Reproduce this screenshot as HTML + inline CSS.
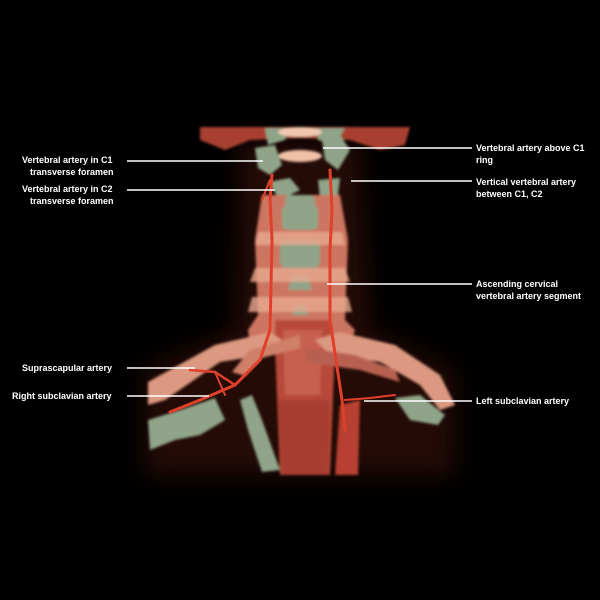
<!DOCTYPE html>
<html><head><meta charset="utf-8"><style>
html,body{margin:0;padding:0;background:#000;}
svg{display:block}
text{font-family:"Liberation Sans",sans-serif;font-weight:bold;font-size:9px;fill:#fff}
</style></head><body>
<svg width="600" height="600" viewBox="0 0 600 600" xmlns="http://www.w3.org/2000/svg">
<rect width="600" height="600" fill="#000"/>
<defs>
<filter id="bl"><feGaussianBlur stdDeviation="1.2"/></filter>
<filter id="bl2"><feGaussianBlur stdDeviation="12"/></filter>
</defs>
<!-- haze -->
<g filter="url(#bl2)" opacity="0.5">
<path d="M240 140 L360 140 L370 330 L455 370 L455 475 L145 475 L145 370 L235 330 Z" fill="#4a1410"/>
</g>
<g filter="url(#bl)">
<path d="M200 127 L410 127 L405 145 L380 150 L350 140 L300 138 L250 140 L225 150 L200 140 Z" fill="#a84030"/>
<path d="M265 128 L290 128 L285 140 L268 145 Z M315 128 L345 128 L335 145 L318 140 Z" fill="#8fa488"/>
<ellipse cx="300" cy="132" rx="22" ry="5" fill="#f0c8b0"/>
<ellipse cx="300" cy="156" rx="22" ry="6" fill="#f0c0a8"/>
<path d="M255 148 L275 145 L282 165 L270 175 L258 168 Z" fill="#8fa488"/>
<path d="M322 140 L340 135 L350 150 L338 170 L325 160 Z" fill="#8fa488"/>
<path d="M268 182 L290 178 L300 190 L280 200 Z M318 180 L340 178 L338 195 L320 198 Z" fill="#8fa488"/>
<path d="M262 195 L340 195 L348 240 L345 320 L355 330 L350 345 L250 345 L248 330 L258 315 L255 240 Z" fill="#cc7460"/>
<rect x="285" y="195" width="30" height="18" rx="5" fill="#8fa488"/>
<rect x="282" y="205" width="36" height="25" rx="6" fill="#8fa488"/>
<rect x="280" y="240" width="40" height="28" rx="6" fill="#8fa488"/>
<path d="M292 275 L308 275 L312 290 L288 290 Z" fill="#8fa488"/>
<path d="M295 305 L305 305 L308 315 L292 315 Z" fill="#8fa488"/>
<path d="M258 232 L342 232 L345 245 L255 245 Z M255 268 L345 268 L350 282 L250 282 Z M252 297 L348 297 L352 312 L248 312 Z" fill="#e8aa90" opacity="0.8"/>
<path d="M275 320 L330 320 L335 345 L330 475 L280 475 L275 345 Z" fill="#b84838"/>
<path d="M283 330 L322 330 L320 395 L285 395 Z" fill="#c86050"/>
<path d="M278 400 L330 400 L328 475 L282 475 Z" fill="#a83e30"/>
<path d="M148 382 L215 345 L270 332 L285 342 L265 355 L220 362 L165 400 L148 405 Z" fill="#dc9880"/>
<path d="M315 340 L340 332 L395 345 L440 375 L455 405 L440 410 L420 385 L380 362 L330 355 Z" fill="#dc9880"/>
<path d="M300 335 L250 350 L232 372 L245 376 L262 358 L300 348 Z" fill="#d08068"/>
<path d="M305 348 L355 355 L395 370 L400 382 L360 370 L305 362 Z" fill="#b86050"/>
<path d="M148 420 L180 410 L215 398 L225 420 L200 435 L175 440 L150 450 Z" fill="#8fa488"/>
<path d="M240 400 L252 395 L262 420 L280 470 L262 472 L248 430 Z" fill="#8fa488"/>
<path d="M395 398 L420 395 L445 415 L438 425 L410 420 Z" fill="#8fa488"/>
<path d="M340 405 L360 400 L358 475 L335 475 Z" fill="#b84030"/>
</g>
<g stroke="#e0402a" fill="none" stroke-linecap="round">
<path d="M272 175 L270 200 L272 240 L270 330 L260 360 L235 385 L200 400 L170 412" stroke-width="3"/>
<path d="M330 170 L332 210 L330 250 L330 320 L336 360 L342 400 L345 430" stroke-width="3"/>
<path d="M235 385 L215 372 L190 370" stroke-width="2.5"/>
<path d="M215 372 L225 395" stroke-width="2"/>
<path d="M345 400 L370 398 L395 395" stroke-width="2"/>
<path d="M270 180 L262 200" stroke-width="2"/>
</g>
<g stroke="#fff" stroke-width="1.5">
<line x1="127" y1="161" x2="263" y2="161"/>
<line x1="127" y1="190" x2="275" y2="190"/>
<line x1="323" y1="148" x2="472" y2="148"/>
<line x1="351" y1="181" x2="472" y2="181"/>
<line x1="327" y1="284" x2="472" y2="284"/>
<line x1="127" y1="368" x2="195" y2="368"/>
<line x1="127" y1="396" x2="209" y2="396"/>
<line x1="364" y1="401" x2="472" y2="401"/>
</g>
<text x="22" y="163">Vertebral artery in C1</text>
<text x="30" y="175">transverse foramen</text>
<text x="22" y="192">Vertebral artery in C2</text>
<text x="30" y="204">transverse foramen</text>
<text x="476" y="151">Vertebral artery above C1</text>
<text x="476" y="163">ring</text>
<text x="476" y="185">Vertical vertebral artery</text>
<text x="476" y="197">between C1, C2</text>
<text x="476" y="287">Ascending cervical</text>
<text x="476" y="299">vertebral artery segment</text>
<text x="22" y="371">Suprascapular artery</text>
<text x="12" y="399">Right subclavian artery</text>
<text x="476" y="404">Left subclavian artery</text>
</svg>
</body></html>
